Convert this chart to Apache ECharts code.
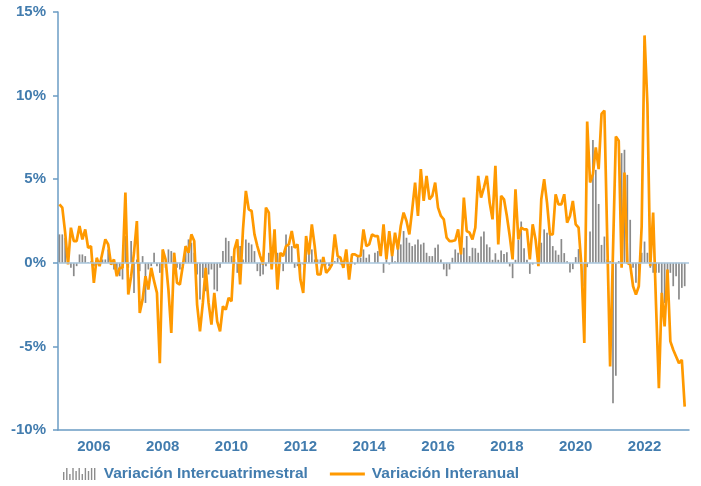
<!DOCTYPE html>
<html>
<head>
<meta charset="utf-8">
<script src="https://cdn.jsdelivr.net/npm/echarts@6/dist/echarts.min.js"></script>
<style>
  html, body { margin: 0; padding: 0; background: #fff; }
  #chart { width: 701px; height: 486px; }
</style>
</head>
<body>
<div id="chart"></div>
<script>
// months from 2005-01, one category per month
const startYear = 2005
const monthCount = 220
const yearLabels = ['2006', '2008', '2010', '2012', '2014', '2016', '2018', '2020', '2022']

// Variación Interanual (%), monthly from 2005-01
const interanual = [
  3.5, 3.3, 1.8, -0.1, 2.1, 1.3, 1.3, 2.2, 1.4, 2.0,
  0.9, 1.0, -1.2, 0.3, -0.2, 0.6, 1.4, 1.1, -0.1, 0.2,
  -0.8, -0.3, -0.3, 4.2, -1.9, -0.8, 0.6, 2.5, -3.0, -2.2,
  -0.8, -1.6, -0.3, -1.1, -1.8, -6.0, 0.8, 0.2, -1.6, -4.2,
  0.6, -1.2, -1.3, -0.2, 1.0, 0.6, 1.7, 1.3, -2.5, -4.1,
  -2.4, -0.3, -2.4, -3.7, -1.8, -3.5, -4.1, -2.6, -2.8, -2.1,
  -2.3, 0.8, 1.4, -1.3, 2.0, 4.3, 3.2, 3.1, 1.7, 1.0,
  0.4, -0.1, 3.3, 3.0, -0.4, 2.0, -1.6, 0.6, 0.4, 1.0,
  1.1, 1.9, 0.9, 1.1, -1.0, -1.8, 1.6, 0.5, 2.3, 1.0,
  -0.7, -0.7, 0.35, -0.6, -0.4, -0.1, 1.7, 0.4, 0.3, -0.3,
  0.8, -1.0, 0.5, 0.5, 0.4, 0.4, 2.0, 1.0, 1.1, 1.7,
  1.6, 1.6, 0.4, 2.3, 0.2, 1.9, 0.4, 1.8, 0.8, 2.2,
  3.0, 2.5, 1.7, 3.2, 4.8, 2.8, 5.6, 3.7, 5.2, 3.8,
  4.0, 4.8, 3.3, 2.8, 2.6, 1.5, 1.3, 1.3, 1.35, 2.0,
  0.5, 3.9, 1.9, 1.8, 1.4, 2.1, 5.2, 3.9, 4.5, 5.2,
  3.6, 2.6, 5.8, 1.1, 4.0, 3.8, 2.8, 1.6, 0.2, 4.4,
  1.4, 2.1, 2.0, 2.0, 0.2, 2.3, 1.4, -0.2, 3.8, 5.0,
  3.6, 1.7, 1.7, 4.1, 3.5, 3.5, 4.1, 2.4, 2.8, 3.7,
  2.3, 2.1, -0.2, -4.8, 8.45, 4.8, 5.3, 6.9, 5.6, 8.9,
  9.1, 1.4, -6.2, 0.7, 7.55, 7.3, -0.3, 5.4, 0.0, -0.1,
  -1.4, -1.9, -1.4, 2.2, 13.6, 9.5, -0.2, 3.0, -2.5, -7.5,
  -1.8, -3.8, -0.4, -4.7, -5.2, -5.6, -6.0, -5.8, -8.6
]

// Variación Intercuatrimestral (%), monthly from 2005-01
const intercuatrimestral = [
  1.7, 1.7, 1.5, 0.3, -0.3, -0.8, -0.2, 0.5, 0.5, 0.4,
  0.05, 0.1, -0.2, 0.1, 0.0, 0.2, 0.2, 0.8, -0.1, -0.4,
  -0.7, -0.8, -1.0, 1.6, -0.3, 1.3, -1.8, 0.2, -0.5, 0.4,
  -2.4, -0.4, -0.2, 0.6, -0.2, -0.6, 0.5, -0.3, 0.8, 0.7,
  0.6, -0.3, -0.4, -0.3, 1.0, 1.4, 1.2, 0.6, -0.7, -2.2,
  -0.9, -1.7, -0.7, -0.4, -1.6, -1.7, -0.3, 0.7, 1.5, 1.3,
  0.4, 0.2, -0.6, 1.0, 0.2, 1.4, 1.2, 1.1, 0.7, -0.5,
  -0.8, -0.7, -0.2, 0.6, 0.5, 0.0, 0.6, 0.2, -0.5, 1.7,
  1.0, 1.0, -0.3, -0.2, -1.0, -0.1, 0.8, 1.0, 0.8, 0.2,
  0.2, 0.2, 0.1, -0.1, -0.2, -0.1, 0.1, 0.3, -0.1, 0.1,
  0.0, -0.1, 0.1, -0.1, 0.4, 0.3, 0.8, 0.3, 0.5, 0.0,
  0.6, 0.7, 0.0, -0.6, 0.2, -0.1, 0.8, 0.1, 1.0, 1.1,
  1.9, 1.5, 1.2, 1.0, 1.1, 1.4, 1.1, 1.2, 0.6, 0.4,
  0.4, 0.9, 1.1, 0.2, -0.4, -0.8, -0.4, 0.3, 0.8, 0.6,
  1.4, 0.9, 1.6, 0.4, 0.9, 0.87, 0.6, 1.57, 1.87, 1.1,
  0.93, 0.18, 0.57, 0.18, 0.73, 0.53, 0.63, -0.22, -0.92, 0.18,
  1.37, 2.47, 0.87, 0.18, -0.66, -0.1, 0.0, 0.78, 1.2, 2.0,
  1.8, 1.68, 1.0, 0.74, 0.48, 1.42, 0.58, 0.1, -0.58, -0.38,
  0.34, 0.82, 0.0, -1.4, -0.26, 1.87, 7.35, 5.56, 3.52, 1.07,
  1.57, 0.2, 0.1, -8.4, -6.75, 0.1, 6.56, 6.76, 5.26, 2.57,
  -0.3, -1.2, -1.4, 0.6, 1.27, 0.6, -0.3, -0.6, -0.6, -0.6,
  -2.6, -2.4, -2.2, -0.6, -1.4, -0.8, -2.2, -1.5, -1.4
]

const blue = '#427cae'
const axisBlue = '#6b9cc4'

const months = []
for (let i = 0; i < monthCount; i++) {
  const y = startYear + Math.floor(i / 12)
  const m = (i % 12) + 1
  months.push(y + '-' + (m < 10 ? '0' + m : m))
}
const isYearTick = (idx) => {
  const c = months[idx]
  return c.slice(5) === '01' && yearLabels.indexOf(c.slice(0, 4)) >= 0
}

// little bar pattern for the legend icon
const barHeights = [8, 12, 6, 12, 9, 12, 6, 12, 9, 12, 12]
let barIcon = 'path://'
barHeights.forEach((h, k) => {
  const x = k * 3.1
  barIcon += 'M' + x + ',' + (12 - h) + 'h1.4v' + h + 'h-1.4Z'
})

const chart = echarts.init(document.getElementById('chart'))
chart.setOption({
  animation: false,
  grid: { left: 58, right: 12, top: 12, bottom: 56 },
  legend: {
    left: 58,
    top: 461,
    itemGap: 22,
    itemWidth: 35,
    itemHeight: 12,
    selectedMode: false,
    textStyle: {
      color: blue, fontSize: 15.5, fontWeight: 'bold',
      fontFamily: 'Liberation Sans, Arial, sans-serif', padding: [0, 0, 0, 2]
    },
    data: [
      { name: 'Variación Intercuatrimestral', icon: barIcon, itemStyle: { color: '#8c8c8c' } },
      { name: 'Variación Interanual', icon: 'path://M0,0H36V3H0Z', itemStyle: { color: '#ff9900' } }
    ]
  },
  xAxis: {
    type: 'category',
    data: months,
    boundaryGap: true,
    axisLine: { onZero: false, lineStyle: { color: axisBlue, width: 1.5 } },
    axisTick: { alignWithLabel: true, length: 5, interval: (idx) => isYearTick(idx), lineStyle: { color: axisBlue, width: 1.5 } },
    axisLabel: {
      interval: (idx) => isYearTick(idx),
      formatter: (v) => v.slice(0, 4),
      color: blue, fontSize: 15, fontWeight: 'bold', margin: 9,
      fontFamily: 'Liberation Sans, Arial, sans-serif'
    },
    splitLine: { show: false }
  },
  yAxis: {
    type: 'value',
    min: -10,
    max: 15,
    interval: 5,
    axisLine: { show: true, lineStyle: { color: axisBlue, width: 1.5 } },
    axisTick: { show: true, length: 5, lineStyle: { color: axisBlue, width: 1.5 } },
    axisLabel: {
      formatter: '{value}%',
      color: blue, fontSize: 15, fontWeight: 'bold', margin: 12,
      fontFamily: 'Liberation Sans, Arial, sans-serif'
    },
    splitLine: { show: false }
  },
  series: [
    {
      name: 'Variación Intercuatrimestral',
      type: 'bar',
      data: intercuatrimestral,
      barWidth: 1.7,
      itemStyle: { color: '#8a8a8a' },
      markLine: {
        silent: true,
        symbol: ['none', 'none'],
        label: { show: false },
        lineStyle: { color: '#a9c6dc', type: 'solid', width: 1.5 },
        data: [{ yAxis: 0 }]
      }
    },
    {
      name: 'Variación Interanual',
      type: 'line',
      data: interanual,
      showSymbol: false,
      symbol: 'none',
      lineStyle: { color: '#ff9900', width: 2.7 },
      itemStyle: { color: '#ff9900' }
    }
  ]
})
</script>
</body>
</html>
